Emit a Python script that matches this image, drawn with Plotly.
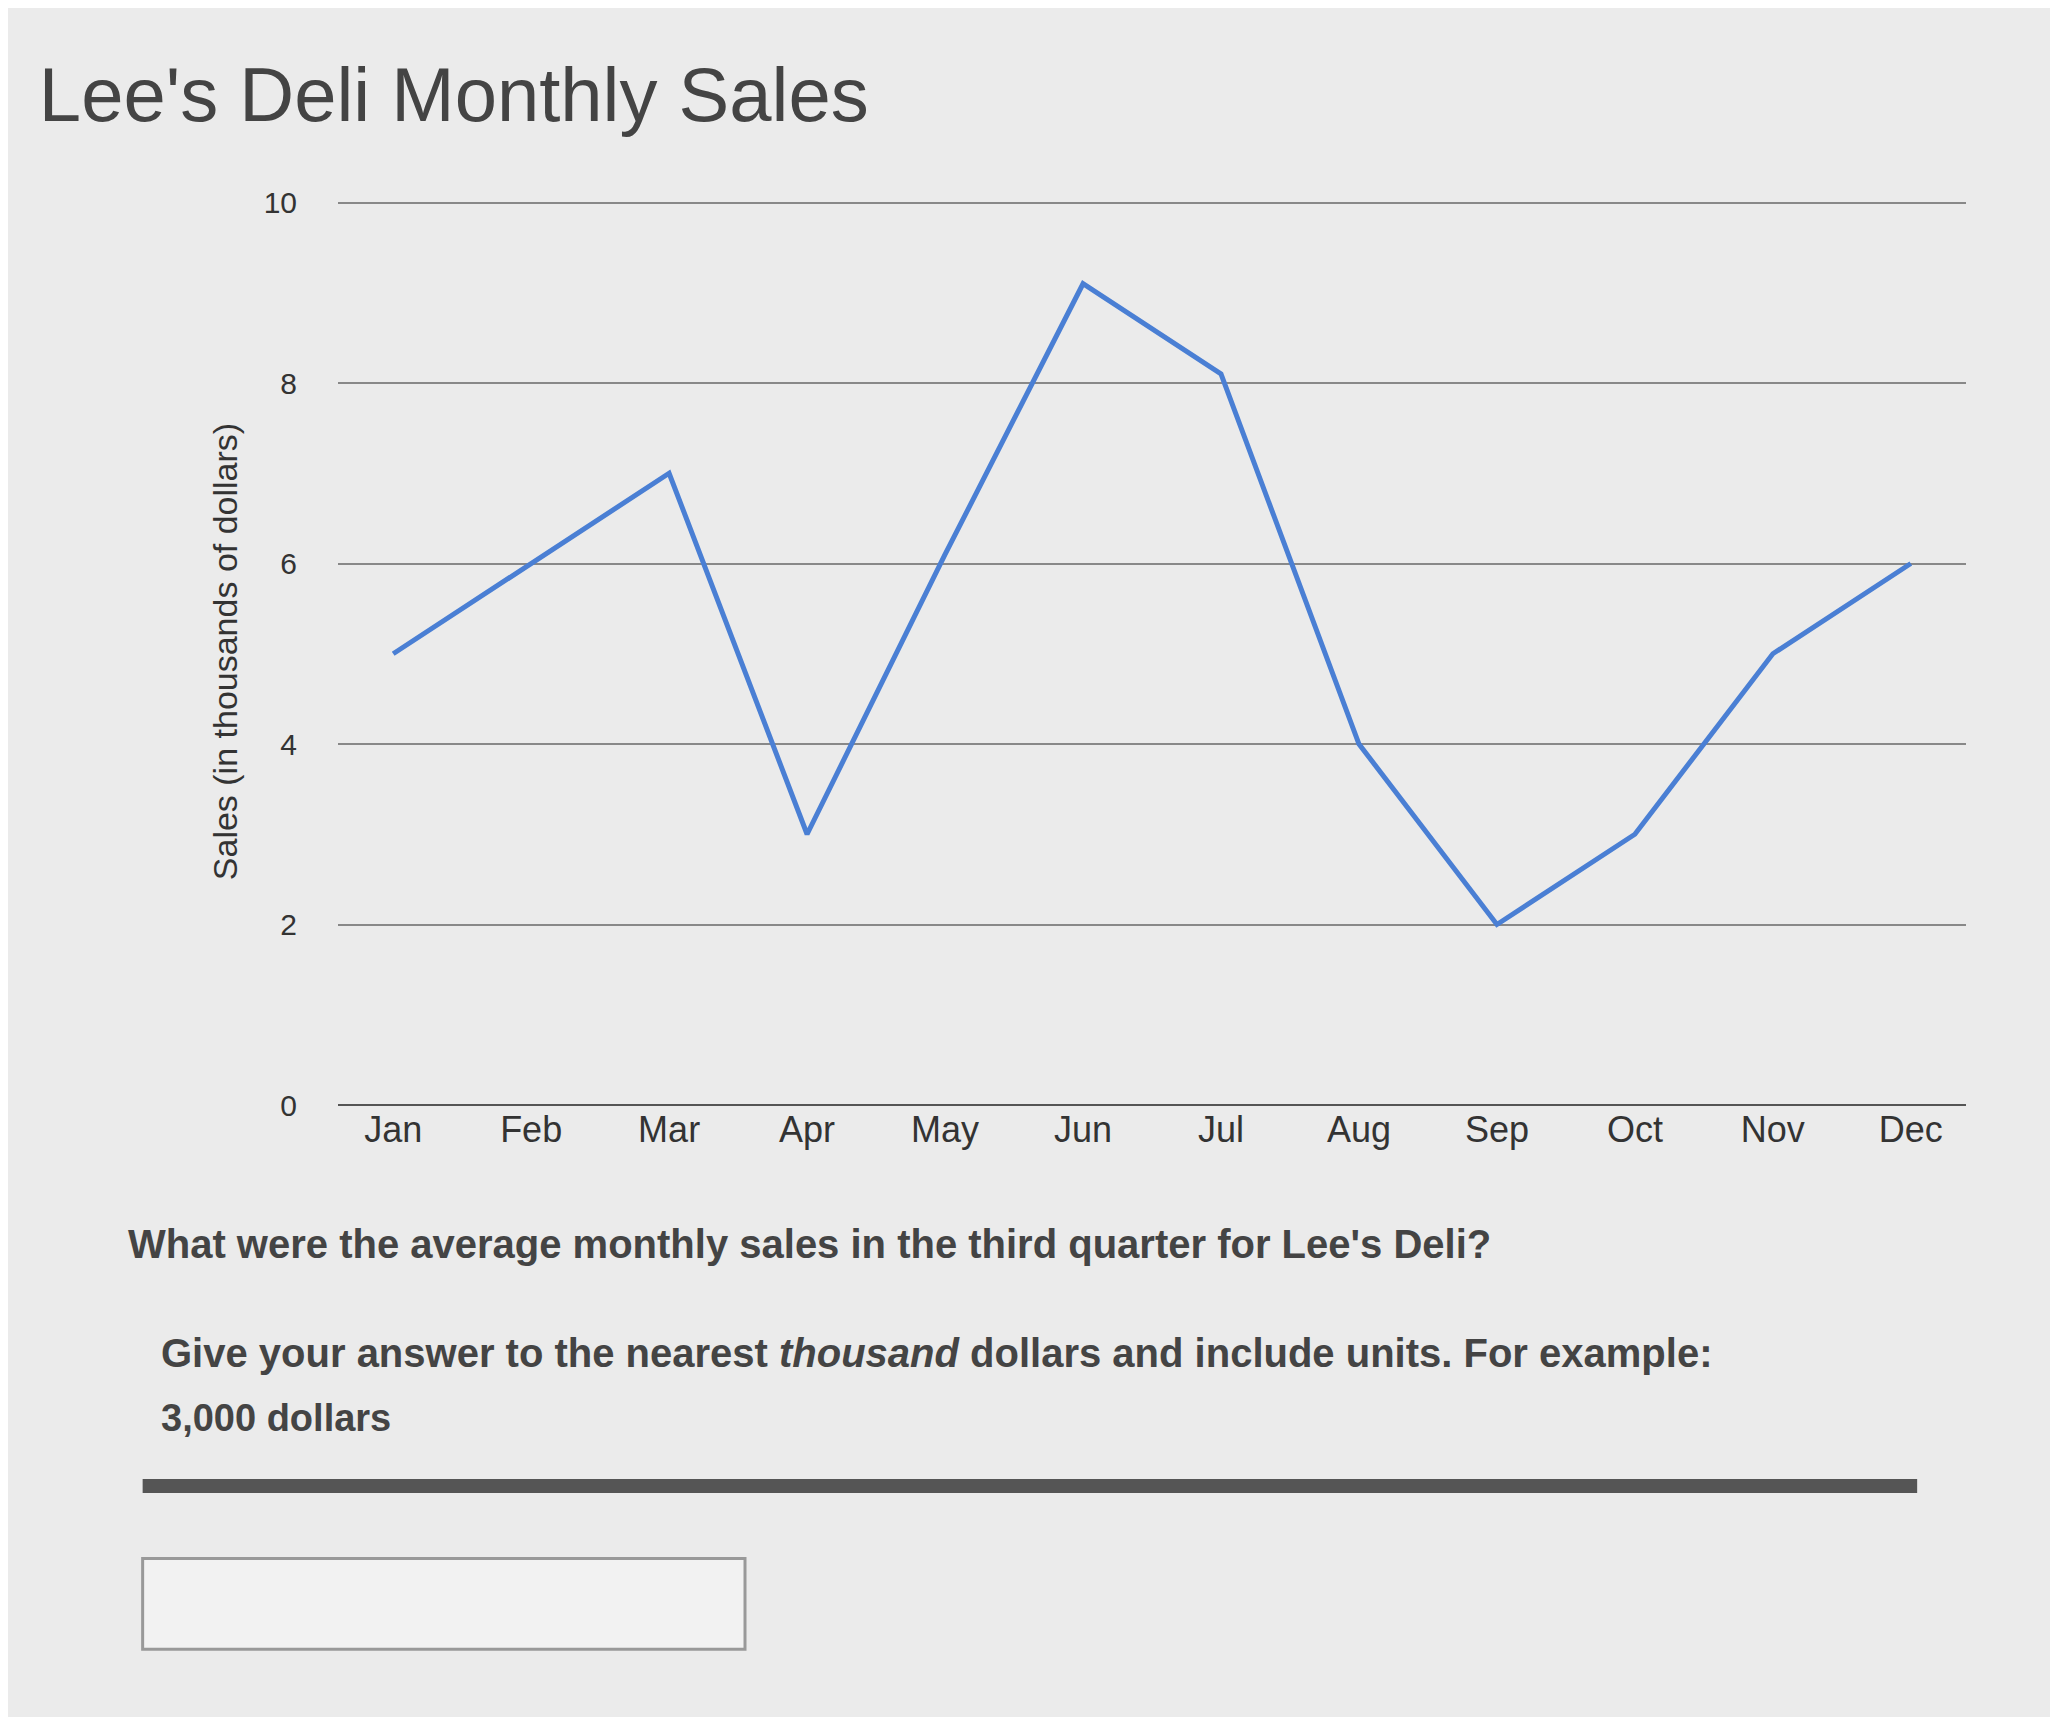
import plotly.graph_objects as go

months = ['Jan', 'Feb', 'Mar', 'Apr', 'May', 'Jun', 'Jul', 'Aug', 'Sep', 'Oct', 'Nov', 'Dec']
sales = [5.0, 6.0, 7.0, 3.0, 6.1, 9.1, 8.1, 4.0, 2.0, 3.0, 5.0, 6.0]
y_ticks = [0, 2, 4, 6, 8, 10]

fig = go.Figure()
fig.add_trace(go.Scatter(x=months, y=sales, mode='lines',
                         line=dict(color='#4a7fd4', width=5), showlegend=False))

fig.update_layout(
    width=2058, height=1717,
    paper_bgcolor='#ebebeb', plot_bgcolor='#ebebeb',
    font=dict(family='Liberation Sans, Arial', color='#333'),
    title=dict(text="Lee's Deli Monthly Sales", x=0.015, y=0.965,
               font=dict(size=76, color='#444')),
    margin=dict(l=330, r=100, t=190, b=620),
    xaxis=dict(tickfont=dict(size=36, color='#333'), showgrid=False,
               showline=False, ticks='', range=[-0.4, 11.4]),
    yaxis=dict(title=dict(text='Sales (in thousands of dollars)', font=dict(size=34)),
               range=[0, 10.05], tickvals=y_ticks, tickfont=dict(size=30),
               gridcolor='#888', gridwidth=2, zeroline=True, zerolinecolor='#555',
               zerolinewidth=2, ticklabelstandoff=40),
)

fig.add_annotation(text="<b>What were the average monthly sales in the third quarter for Lee's Deli?</b>",
                   xref='paper', yref='paper', x=-0.13, y=-0.18, xanchor='left',
                   showarrow=False, font=dict(size=40, color='#444'))
fig.add_annotation(text="<b>Give your answer to the nearest <i>thousand</i> dollars and include units. For example:</b>",
                   xref='paper', yref='paper', x=-0.11, y=-0.3, xanchor='left',
                   showarrow=False, font=dict(size=40, color='#444'))
fig.add_annotation(text="<b>3,000 dollars</b>",
                   xref='paper', yref='paper', x=-0.11, y=-0.37, xanchor='left',
                   showarrow=False, font=dict(size=38, color='#444'))
fig.add_shape(type='line', xref='paper', yref='paper', x0=-0.12, x1=0.97, y0=-0.42, y1=-0.42,
              line=dict(color='#555', width=14))
fig.add_shape(type='rect', xref='paper', yref='paper', x0=-0.12, x1=0.25, y0=-0.6, y1=-0.5,
              line=dict(color='#999', width=3), fillcolor='#f2f2f2')

fig.write_html("out.html")
